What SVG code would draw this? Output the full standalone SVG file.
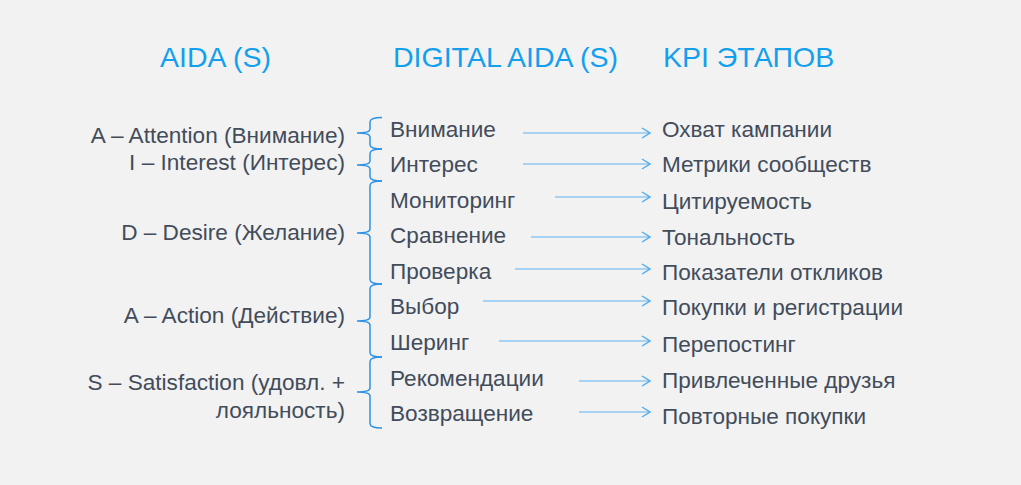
<svg xmlns="http://www.w3.org/2000/svg" width="1021" height="485" viewBox="0 0 1021 485">
<defs>
<style>
.t{font-family:"Liberation Sans",Arial,sans-serif;font-size:22.6px;fill:#424c5a}
.h{font-family:"Liberation Sans",Arial,sans-serif;font-size:28.5px;fill:#12a0ee}
.r{text-anchor:end}
.br{fill:none;stroke:#2e93e6;stroke-width:1.5}
.ar{fill:none;stroke:#90c7f2;stroke-width:1.6;marker-end:url(#ah)}
</style>
<marker id="ah" viewBox="0 0 10 12" refX="9" refY="6" markerWidth="10" markerHeight="12" markerUnits="userSpaceOnUse" orient="auto">
<path d="M1,1 L9,6 L1,11" fill="none" stroke="#4fa9ec" stroke-width="1.3"/>
</marker>
</defs>
<rect width="1021" height="485" fill="#f2f2f2"/>
<g id="titles">
<text class="h" x="215.5" y="67" text-anchor="middle">AIDA (S)</text>
<text class="h" x="393" y="67">DIGITAL AIDA (S)</text>
<text class="h" x="663" y="67">KPI ЭТАПОВ</text>
</g>
<g id="aida">
<text class="t r" x="345" y="143">A – Attention (Внимание)</text>
<text class="t r" x="345" y="170">I – Interest (Интерес)</text>
<text class="t r" x="345" y="240">D – Desire (Желание)</text>
<text class="t r" x="345" y="323">A – Action (Действие)</text>
<text class="t r" x="345" y="390">S – Satisfaction (удовл. +</text>
<text class="t r" x="345" y="418">лояльность)</text>
</g>
<g id="braces">
<path class="br" d="M382,117.5 Q370,117.5 370,122 L370,129 Q370,133 357,133 Q370,133 370,137 L370,144.5 Q370,149 382,149"/>
<path class="br" d="M382,149 Q370,149 370,153.5 L370,161 Q370,165 357,165 Q370,165 370,169 L370,176.5 Q370,181 382,181"/>
<path class="br" d="M382,181 Q370,181 370,185.5 L370,229 Q370,233 357,233 Q370,233 370,237 L370,279.5 Q370,284 382,284"/>
<path class="br" d="M382,284 Q370,284 370,288.5 L370,317 Q370,321 357,321 Q370,321 370,325 L370,352.5 Q370,357 382,357"/>
<path class="br" d="M382,357 Q370,357 370,361.5 L370,388 Q370,392 357,392 Q370,392 370,396 L370,423.5 Q370,428 382,428"/>
</g>
<g id="digital">
<text class="t" x="390" y="137">Внимание</text>
<text class="t" x="390" y="172">Интерес</text>
<text class="t" x="390" y="208">Мониторинг</text>
<text class="t" x="390" y="243">Сравнение</text>
<text class="t" x="390" y="279">Проверка</text>
<text class="t" x="390" y="314">Выбор</text>
<text class="t" x="390" y="350">Шеринг</text>
<text class="t" x="390" y="386">Рекомендации</text>
<text class="t" x="390" y="421">Возвращение</text>
</g>
<g id="connectors">
<line class="ar" x1="523" y1="133" x2="650" y2="133"/>
<line class="ar" x1="523" y1="164" x2="650" y2="164"/>
<line class="ar" x1="555" y1="197" x2="650" y2="197"/>
<line class="ar" x1="531" y1="237" x2="650" y2="237"/>
<line class="ar" x1="515" y1="269" x2="650" y2="269"/>
<line class="ar" x1="483" y1="301" x2="650" y2="301"/>
<line class="ar" x1="499" y1="341" x2="650" y2="341"/>
<line class="ar" x1="579" y1="381" x2="650" y2="381"/>
<line class="ar" x1="579" y1="412" x2="650" y2="412"/>
</g>
<g id="kpi">
<text class="t" x="662" y="137">Охват кампании</text>
<text class="t" x="662" y="172">Метрики сообществ</text>
<text class="t" x="662" y="209">Цитируемость</text>
<text class="t" x="662" y="245">Тональность</text>
<text class="t" x="662" y="280">Показатели откликов</text>
<text class="t" x="662" y="315">Покупки и регистрации</text>
<text class="t" x="662" y="352">Перепостинг</text>
<text class="t" x="662" y="388">Привлеченные друзья</text>
<text class="t" x="662" y="424">Повторные покупки</text>
</g>
</svg>
